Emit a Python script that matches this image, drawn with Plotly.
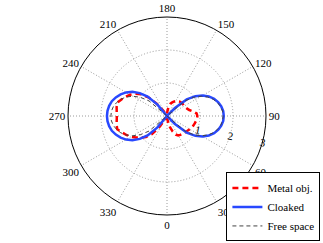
import plotly.graph_objects as go

theta = list(range(0, 365, 5))

r_metal = [0.03, 0.08, 0.2, 0.35, 0.5, 0.62, 0.68, 0.7, 0.71, 0.73, 0.75, 0.77, 0.8, 0.83, 0.85, 0.87, 0.89, 0.91,
           0.92, 0.9, 0.8, 0.7, 0.65, 0.62, 0.6, 0.6, 0.6, 0.59, 0.58, 0.56, 0.52, 0.48, 0.43, 0.38, 0.28, 0.15,
           0.05, 0.05, 0.05, 0.05, 0.05, 0.05, 0.05, 0.2, 0.5, 0.8, 1.02, 1.17, 1.29, 1.38, 1.47, 1.56, 1.55, 1.53,
           1.52, 1.53, 1.55, 1.56, 1.45, 1.36, 1.26, 1.14, 1.02, 0.9, 0.72, 0.42, 0.15, 0.05, 0.05, 0.05, 0.05, 0.05, 0.03]

r_cloaked = [0, 0, 0, 0, 0, 0, 0, 0, 0, 0.34, 0.78, 1.05, 1.24, 1.40, 1.52, 1.61, 1.67, 1.71,
             1.72, 1.71, 1.67, 1.61, 1.52, 1.40, 1.24, 1.05, 0.78, 0.34, 0, 0, 0, 0, 0, 0, 0, 0,
             0, 0, 0, 0, 0, 0, 0, 0, 0.45, 0.83, 1.08, 1.28, 1.43, 1.55, 1.65, 1.73, 1.78, 1.81,
             1.82, 1.81, 1.78, 1.73, 1.65, 1.55, 1.43, 1.28, 1.08, 0.83, 0.45, 0, 0, 0, 0, 0, 0, 0, 0]

r_free = [0, 0, 0, 0, 0, 0, 0, 0, 0, 0, 0.71, 0.99, 1.2, 1.36, 1.49, 1.58, 1.65, 1.69,
          1.7, 1.69, 1.65, 1.58, 1.49, 1.36, 1.2, 0.99, 0.71, 0, 0, 0, 0, 0, 0, 0, 0, 0,
          0, 0, 0, 0, 0, 0, 0, 0, 0, 0, 0.71, 0.99, 1.2, 1.36, 1.49, 1.58, 1.65, 1.69,
          1.7, 1.69, 1.65, 1.58, 1.49, 1.36, 1.2, 0.99, 0.71, 0, 0, 0, 0, 0, 0, 0, 0, 0, 0]

angle_ticks = list(range(0, 360, 30))
angle_labels = [str(a) for a in angle_ticks]
radial_ticks = [1, 2, 3]
radial_labels = ["1", "2", "3"]

FONT = "Liberation Serif"

fig = go.Figure()
fig.add_trace(go.Scatterpolar(r=r_metal, theta=theta, mode="lines", name="Metal obj.",
                              line=dict(color="#ff0000", width=2.5, dash="6px,4px")))
fig.add_trace(go.Scatterpolar(r=r_cloaked, theta=theta, mode="lines", name="Cloaked",
                              line=dict(color="#2848ff", width=2.5)))
fig.add_trace(go.Scatterpolar(r=r_free, theta=theta, mode="lines", name="Free space",
                              line=dict(color="#444444", width=1, dash="4px,3px")))

fig.update_layout(
    width=323, height=243,
    margin=dict(l=68, r=57, t=17, b=28, autoexpand=False),
    paper_bgcolor="white",
    font=dict(family=FONT, size=11, color="black"),
    polar=dict(
        bgcolor="white",
        angularaxis=dict(rotation=270, direction="counterclockwise",
                         tickvals=angle_ticks, ticktext=angle_labels,
                         showline=True, linecolor="black", linewidth=1,
                         gridcolor="#9a9a9a", griddash="1px,2px", gridwidth=1,
                         ticks="", tickfont=dict(family=FONT, size=11, color="black")),
        radialaxis=dict(range=[0, 3], tickvals=radial_ticks, ticktext=radial_labels,
                        angle=-11, tickangle=0, showline=False, ticks="",
                        gridcolor="#9a9a9a", griddash="1px,2px", gridwidth=1,
                        tickfont=dict(family=FONT, size=11, color="black")),
    ),
    legend=dict(x=0.80, y=0.215, xanchor="left", yanchor="top",
                bgcolor="white", bordercolor="black", borderwidth=1,
                font=dict(family=FONT, size=11, color="black"),
                itemwidth=30, tracegroupgap=0),
)

fig.write_html("out.html",
               config={"displayModeBar": False},
               post_script="document.body.style.margin='0';document.body.style.overflow='hidden';")
